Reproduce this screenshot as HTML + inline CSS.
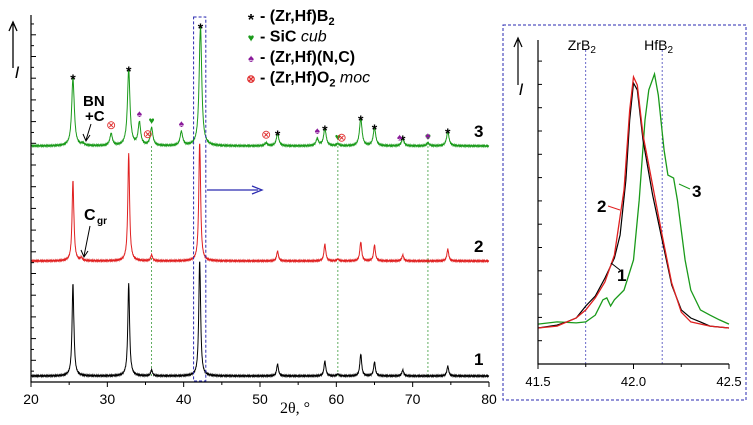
<!DOCTYPE html>
<html><head><meta charset="utf-8">
<style>
body{margin:0;background:#fff;}
svg{display:block;font-family:"Liberation Sans",sans-serif;}
</style></head>
<body>
<svg id="chart" width="753" height="425" viewBox="0 0 753 425" xmlns="http://www.w3.org/2000/svg">
<g id="main"></g>
<g id="inset"></g>
</svg>
<script>
// ---------- Main panel data ----------
const xTicks = [20,30,40,50,60,70,80];
const peaks1Pos = [25.5,32.8,35.8,42.1,52.3,58.5,60.2,63.2,65.0,68.7,74.6];
const peaks1H   = [93,93,6,116,12,15,2,22,14,6,10];
const peaks2Pos = [25.5,26.6,32.8,35.8,42.1,52.3,58.5,60.2,63.2,65.0,68.7,74.6];
const peaks2H   = [81,3,108,6,119,10,17,2,19,16,6,12];
const peaks3Pos = [25.5,26.8,30.5,32.8,34.2,35.8,39.7,42.2,50.8,52.3,57.5,58.5,60.2,63.2,65.0,68.7,72.0,74.6];
const peaks3H   = [68,2,12,76,23,18,14,119,3,12,7,17,2,27,18,7,3,14];
const offsets   = [6,121,236];
const sicLines  = [35.8,60.2,72.0];
const starPos   = [25.5,32.8,42.2,52.3,58.5,63.2,65.0,68.7,74.6];
const heartPos  = [35.8,60.2,72.0];
const spadePos  = [34.2,39.7,57.5,68.3,72.0];
const oxPos     = [30.5,35.3,50.8,60.7];
// ---------- Inset data ----------
const insetXTicks = [41.5,42.0,42.5];
const in1X = [41.5,41.6,41.65,41.7,41.75,41.8,41.85,41.9,41.93,41.96,41.98,42.0,42.02,42.05,42.1,42.15,42.2,42.25,42.3,42.35,42.4,42.5];
const in1Y = [11.1,12.0,13.0,14.2,17.9,21.0,26.5,32.7,39.8,56.8,75.3,86.7,84.6,69.1,52.2,38.3,24.4,16.7,14.2,13.0,11.7,11.1];
const in2X = [41.5,41.6,41.7,41.75,41.8,41.85,41.9,41.95,41.98,42.0,42.02,42.05,42.1,42.15,42.2,42.25,42.3,42.4,42.5];
const in2Y = [11.1,11.7,14.2,16.7,20.4,25.3,33.6,53.7,78.4,88.6,86.1,70.7,55.2,39.8,25.0,16.0,13.0,11.7,11.1];
const in3X = [41.5,41.6,41.7,41.75,41.8,41.84,41.86,41.88,41.9,41.95,42.0,42.03,42.06,42.08,42.11,42.13,42.16,42.18,42.21,42.23,42.27,42.3,42.35,42.4,42.45,42.5];
const in3Y = [12.3,13.0,12.7,13.0,15.1,19.8,20.4,17.9,19.8,22.8,32.1,50.6,75.3,84.6,89.5,83.0,66.0,58.3,57.4,50.6,32.1,22.8,16.7,15.1,13.6,12.3];

const NS="http://www.w3.org/2000/svg";
function mk(tag,attrs,parent,text){const e=document.createElementNS(NS,tag);for(const k in attrs)e.setAttribute(k,attrs[k]);if(text!==undefined)e.textContent=text;parent.appendChild(e);return e;}
const main=document.getElementById('main'), inset=document.getElementById('inset');

const X0=31,X1=489,Y0=382,YT=15;
const sx=v=>X0+(v-20)/60*(X1-X0);
const sy=v=>Y0-v;
function traceY(x,pos,h,w,off){let s=off;for(let i=0;i<pos.length;i++){const d=(x-pos[i])/w;s+=h[i]/(1+d*d);}return s;}
function tracePath(pos,h,w,off){let d="";for(let x=20;x<=80;x+=0.04){const n=Math.sin(x*97.3)*0.6;d+=(d?"L":"M")+sx(x).toFixed(1)+","+sy(traceY(x,pos,h,w,off)+n).toFixed(1);}return d;}

sicLines.forEach(v=>{const l=mk('line',{x1:sx(v),x2:sx(v),y1:sy(offsets[2]),y2:sy(offsets[0]),stroke:'#3a9a3a','stroke-width':0.8,'stroke-dasharray':'2,2'},main);
});

const t1=mk('path',{d:tracePath(peaks1Pos,peaks1H,0.14,offsets[0]),fill:'none',stroke:'#000','stroke-width':1},main);

const t2=mk('path',{d:tracePath(peaks2Pos,peaks2H,0.14,offsets[1]),fill:'none',stroke:'#e02020','stroke-width':1},main);

const t3=mk('path',{d:tracePath(peaks3Pos,peaks3H,0.2,offsets[2]),fill:'none',stroke:'#1a9a1a','stroke-width':1},main);


const ax=mk('path',{d:`M${X0},${YT}V${Y0}H${X1}`,fill:'none',stroke:'#000','stroke-width':1.2},main);

for(let i=0;;i++){const y=Y0-i*10.85;if(y<YT-1)break;mk('line',{x1:X0,x2:X0+(i%2?3:5),y1:y,y2:y,stroke:'#000','stroke-width':1},main);}
xTicks.forEach(v=>{mk('line',{x1:sx(v),x2:sx(v),y1:Y0,y2:Y0+5,stroke:'#000'},main);
const t=mk('text',{x:sx(v),y:Y0+22,'text-anchor':'middle','font-size':14},main,String(v));
});
for(let v=25;v<80;v+=10)mk('line',{x1:sx(v),x2:sx(v),y1:Y0,y2:Y0+3,stroke:'#000'},main);
const xl=mk('text',{x:280,y:413,'font-size':16,'font-family':'Liberation Serif, serif'},main,'2θ, °');

const yl=mk('text',{x:17,y:78,'font-size':17,'font-style':'italic','text-anchor':'middle'},main,'I');

mk('path',{d:'M13,68V24M9,31L13,22L17,31',fill:'none',stroke:'#000','stroke-width':1.3},main);

const zb=mk('rect',{x:sx(41.3),y:17,width:sx(42.9)-sx(41.3),height:364,fill:'none',stroke:'#2a2ab0','stroke-width':1,'stroke-dasharray':'3,2'},main);

mk('path',{d:'M207,190H258M252,186L262,190L252,194',fill:'none',stroke:'#2a2ab0','stroke-width':1.3},main);

[['1',365],['2',252],['3',137]].forEach(([s,y])=>{const t=mk('text',{x:474,y:y,'font-size':17,'font-weight':'bold'},main,s);
});

starPos.forEach(v=>{const i=peaks3Pos.indexOf(v);const h=i>=0?peaks3H[i]:10;const m=mk('text',{x:sx(v),y:sy(offsets[2]+h)+6,'text-anchor':'middle','font-size':14,'font-weight':'bold'},main,'*');
});
heartPos.forEach(v=>{const m=mk('text',{x:sx(v),y:sy(offsets[2]+traceY(v,peaks3Pos,peaks3H,0.2,0))-3,'text-anchor':'middle','font-size':10,fill:'#1a9a1a'},main,'♥');
});
spadePos.forEach(v=>{const m=mk('text',{x:sx(v),y:sy(offsets[2]+traceY(v,peaks3Pos,peaks3H,0.2,0))-4,'text-anchor':'middle','font-size':10,fill:'#8a1a9a'},main,'♠');
});
oxPos.forEach(v=>{const m=mk('text',{x:sx(v),y:sy(offsets[2]+traceY(v,peaks3Pos,peaks3H,0.2,0))-4,'text-anchor':'middle','font-size':12,fill:'#e03030'},main,'⊗');
});

mk('text',{x:83,y:106,'font-size':15,'font-weight':'bold'},main,'BN');
mk('text',{x:85,y:121,'font-size':15,'font-weight':'bold'},main,'+C');
mk('path',{d:'M91,124L86,140M83,134L86,141L90,135',fill:'none',stroke:'#000'},main);
mk('text',{x:84,y:220,'font-size':16,'font-weight':'bold'},main,'C');
mk('text',{x:97,y:224,'font-size':10,'font-weight':'bold'},main,'gr');
mk('path',{d:'M90,226L84,256M81,250L84,257L88,251',fill:'none',stroke:'#000'},main);

const lg=mk('g',{},main);
const leg=[['*','#000','- (Zr,Hf)B','2',''],['♥','#1a9a1a','- SiC ','','cub'],['♠','#8a1a9a','- (Zr,Hf)(N,C)','',''],['⊗','#e03030','- (Zr,Hf)O','2',' moc']];
leg.forEach((r,i)=>{const y=21+i*20.5;mk('text',{x:251,y:y+(r[0]=='*'?4:0),'font-size':r[0]=='*'?16:11,fill:r[1],'text-anchor':'middle','font-weight':'bold'},lg,r[0]);
const t=mk('text',{x:260,y:y,'font-size':16,'font-weight':'bold'},lg,r[2]);
if(r[3])mk('tspan',{'font-size':11,dy:4},t,r[3]);
if(r[4])mk('tspan',{'font-weight':'normal','font-style':'italic',dy:r[3]?-4:0},t,r[4]);
});

const IX0=538,IX1=729,IY0=364,IYT=40;
const ix=v=>IX0+(v-41.5)/1.0*(IX1-IX0);
const iy=v=>IY0-v*3.24;
const ib=mk('rect',{x:503,y:25,width:243,height:375,fill:'none',stroke:'#2a2ab0','stroke-width':1,'stroke-dasharray':'3,2'},inset);

[[41.75,'ZrB'],[42.15,'HfB']].forEach(([v,s])=>{mk('line',{x1:ix(v),x2:ix(v),y1:50,y2:IY0,stroke:'#2a2ab0','stroke-width':0.7,'stroke-dasharray':'2,2'},inset);
const t=mk('text',{x:ix(v)-18,y:50,'font-size':14},inset,s);mk('tspan',{'font-size':10,dy:3},t,'2');
});
function ipath(xs,ys){return xs.map((x,i)=>(i?'L':'M')+ix(x).toFixed(1)+','+iy(ys[i]).toFixed(1)).join('');}
const c3=mk('path',{d:ipath(in3X,in3Y),fill:'none',stroke:'#1a9a1a','stroke-width':1.3},inset);

const c1=mk('path',{d:ipath(in1X,in1Y),fill:'none',stroke:'#000','stroke-width':1.2},inset);

const c2=mk('path',{d:ipath(in2X,in2Y),fill:'none',stroke:'#e02020','stroke-width':1.3},inset);

mk('path',{d:`M${IX0},${IYT}V${IY0}H${IX1}`,fill:'none',stroke:'#000','stroke-width':1.2},inset);
for(let i=1;;i++){const y=IY0-i*23.3;if(y<IYT)break;mk('line',{x1:IX0,x2:IX0+4,y1:y,y2:y,stroke:'#000'},inset);}
insetXTicks.forEach(v=>{mk('line',{x1:ix(v),x2:ix(v),y1:IY0,y2:IY0+5,stroke:'#000'},inset);
const t=mk('text',{x:ix(v),y:IY0+22,'text-anchor':'middle','font-size':13},inset,v.toFixed(1));
});
[41.75,42.25].forEach(v=>mk('line',{x1:ix(v),x2:ix(v),y1:IY0,y2:IY0+3,stroke:'#000'},inset));
mk('text',{x:521,y:95,'font-size':17,'font-style':'italic','text-anchor':'middle'},inset,'I');
mk('path',{d:'M518,85V40M514,47L518,38L522,47',fill:'none',stroke:'#000','stroke-width':1.2},inset);
mk('text',{x:597,y:212,'font-size':17,'font-weight':'bold'},inset,'2');
mk('line',{x1:608,x2:620,y1:206,y2:210,stroke:'#e02020'},inset);
mk('text',{x:617,y:281,'font-size':17,'font-weight':'bold'},inset,'1');
mk('line',{x1:611,x2:620,y1:263,y2:270,stroke:'#000'},inset);
mk('text',{x:692,y:197,'font-size':17,'font-weight':'bold'},inset,'3');
mk('line',{x1:679,x2:690,y1:184,y2:189,stroke:'#1a9a1a'},inset);
</script>
</body></html>
